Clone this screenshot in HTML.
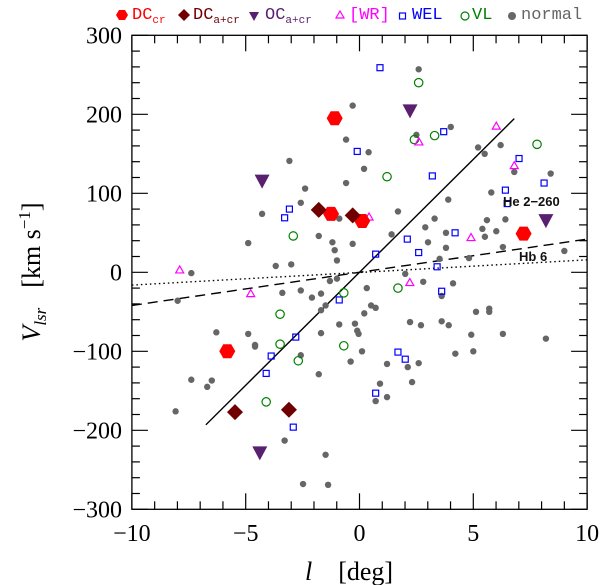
<!DOCTYPE html>
<html><head><meta charset="utf-8"><style>
html,body{margin:0;padding:0;background:#fff;}
svg{display:block;}
</style></head><body>
<svg id="chart" width="603" height="585" xmlns="http://www.w3.org/2000/svg" font-family="Liberation Serif, serif">
<g id="frame-g"></g>
<g id="lines-g"></g>
<g id="marks-g"></g>
<g font-family="Liberation Mono, monospace" font-size="17">
  <polygon points="116,15 119,10 125,10 128,15 125,20 119,20" fill="#ff0000"/>
  <text x="132" y="19" fill="#ff0000">DC<tspan font-size="11" dy="4">cr</tspan></text>
  <polygon points="184,9 190,15 184,21 178,15" fill="#700000"/>
  <text x="193" y="19" fill="#700000">DC<tspan font-size="11" dy="4">a+cr</tspan></text>
  <polygon points="249,12 259,12 254,21" fill="#5a2070"/>
  <text x="265" y="19" fill="#5a2070">OC<tspan font-size="11" dy="4">a+cr</tspan></text>
  <polygon points="340,11 344,18 336,18" fill="none" stroke="#ff00ff" stroke-width="1.2"/>
  <text x="349" y="19" fill="#ff00ff">[WR]</text>
  <rect x="399.5" y="13" width="6" height="6" fill="none" stroke="#0000ff" stroke-width="1.2"/>
  <text x="412" y="19" fill="#0000ff">WEL</text>
  <circle cx="465" cy="16" r="4" fill="none" stroke="#008000" stroke-width="1.2"/>
  <text x="472" y="19" fill="#008000">VL</text>
  <circle cx="512" cy="16" r="4" fill="#666"/>
  <text x="521" y="19" fill="#666">normal</text>
</g>
<text x="503" y="206" font-size="13" font-family="Liberation Sans, sans-serif" font-weight="bold" fill="#111">He 2−260</text>
<text x="519" y="261" font-size="13" font-family="Liberation Sans, sans-serif" font-weight="bold" fill="#111">Hb 6</text>
<text x="305" y="580" font-size="26"><tspan font-style="italic">l</tspan><tspan dx="26">[deg]</tspan></text>
<text transform="translate(40,272) rotate(-90)" text-anchor="middle" font-size="26"><tspan font-style="italic">V</tspan><tspan font-style="italic" font-size="17" dy="6">lsr</tspan><tspan dy="-6" dx="20">[km s</tspan><tspan font-size="17" dy="-10">−1</tspan><tspan dy="10">]</tspan></text>
</svg>
<script>
const xTicks=[-10,-5,0,5,10];
const yTicks=[-300,-200,-100,0,100,200,300];
const normalL=[-0.30,-0.59,-3.08,-0.59,-2.39,-2.58,-4.28,-0.89,-1.79,-4.89,-1.19,-1.09,-0.30,-0.99,-3.68,-3.0,2.60,4.01,2.50,6.20,5.21,5.50,0.40,0.20,6.80,8.40,5.79,3.90,1.69,3.30,5.60,6.41,2.89,1.41,3.80,5.40,6.01,5.51,3.01,3.80,6.30,9.0,3.52,4.81,-7.39,-7.99,-1.30,-0.99,-3.39,-2.58,-2.09,-1.69,-1.49,-1.69,-0.89,-0.2,-0.1,-0.04,-6.29,-4.89,-4.59,-4.59,-2.58,-1.69,-0.39,-1.79,-7.39,-6.49,-6.69,-8.08,-3.29,-1.49,-2.48,-1.38,2.01,2.80,4.11,0.32,3.61,0.51,0.71,0.21,5.12,5.70,5.70,2.22,2.70,3.61,3.92,4.91,6.30,8.19,0.11,4.21,5.0,1.21,2.12,2.60,0.90,2.31,0.71,1.21];
const normalV=[211,168,141,113,106,88,74,68,46,37,38,28,36,15,8,10,257,184,174,161,158,150,152,131,127,125,101,92,77,68,66,67,57,48,50,55,52,45,38,31,32,27,17,18,-1,-36,-11,-8,-26,-23,-32,-27,-42,-48,-66,-65,-74,-78,-76,-78,-92,-94,-105,-77,-113,-129,-136,-137,-145,-176,-213,-231,-268,-269,-2,-12,-14,-20,-30,-42,-45,-52,-50,-46,-50,-63,-67,-62,-67,-79,-78,-84,-100,-103,-100,-116,-120,-115,-141,-139,-163,-158];
const welL=[-0.1,-3.08,-3.29,0.90,3.70,3.20,7.01,8.11,6.41,6.49,4.20,2.10,2.60,0.71,3.41,-0.89,-2.80,-3.88,-4.10,-2.91,3.61,1.69,2.01,0.71];
const welV=[153,80,69,259,178,122,144,113,104,87,50,42,25,23,7,-35,-82,-106,-128,-196,-24,-101,-110,-153];
const vlL=[-2.91,2.60,2.41,3.30,7.80,1.21,-0.69,-3.49,-3.49,-2.69,-0.69,-4.10,1.69];
const vlV=[46,240,168,173,162,121,-26,-53,-91,-112,-93,-164,-20];
const wrL=[6.01,2.61,6.80,0.42,4.90,-7.90,-4.78,2.21];
const wrV=[185,165,135,70,44,3,-27,-13];
const dccrL=[-1.09,-1.25,0.12,7.21,-5.81];
const dccrV=[195,74,65,49,-100];
const dcacrL=[-1.79,-0.30,-5.47,-3.10];
const dcacrV=[79,72,-177,-174];
const ocacrL=[-4.28,2.22,8.19,-4.38];
const ocacrV=[116,205,66,-228];
// fit lines: [lStart, lEnd, slope, intercept]
const solidFit=[-6.75,6.8,28.6,0];
const dashedFit=[-10,10,4.2,0];
const dottedFit=[-10,10,1.6,-0.2];

const X=l=>359.5+22.76*l;
const Y=v=>272.3-0.79*v;
const NS='http://www.w3.org/2000/svg';
function mk(tag,attrs,parent){const e=document.createElementNS(NS,tag);for(const k in attrs)e.setAttribute(k,attrs[k]);parent.appendChild(e);return e;}
const frame=document.getElementById('frame-g');
const x0=X(-10),x1=X(10),y0=Y(300),y1=Y(-300);
let r=mk('rect',{x:x0,y:y0,width:x1-x0,height:y1-y0,fill:'none',stroke:'#000','stroke-width':1.3},frame);


for(let l=-10;l<=10;l+=1){const major=xTicks.includes(l);const len=major?16:8;
 let t=mk('line',{x1:X(l),x2:X(l),y1:y1,y2:y1-len,stroke:'#000','stroke-width':1.2},frame);
 
 t=mk('line',{x1:X(l),x2:X(l),y1:y0,y2:y0+len,stroke:'#000','stroke-width':1.2},frame);
 }
for(let v=-300;v<=300;v+=20){const major=yTicks.includes(v);const len=major?16:8;
 let t=mk('line',{x1:x0,x2:x0+len,y1:Y(v),y2:Y(v),stroke:'#000','stroke-width':1.2},frame);
 
 t=mk('line',{x1:x1,x2:x1-len,y1:Y(v),y2:Y(v),stroke:'#000','stroke-width':1.2},frame);
 }
xTicks.forEach(l=>{const t=mk('text',{x:X(l),y:541,'text-anchor':'middle','font-size':24},frame);t.textContent=(l<0?'−':'')+Math.abs(l);
 });
yTicks.forEach(v=>{const t=mk('text',{x:122,y:Y(v)+8,'text-anchor':'end','font-size':24},frame);t.textContent=(v<0?'−':'')+Math.abs(v);
 });

const lg=document.getElementById('lines-g');
function fitLine(f,dash,name){const ln=mk('line',{x1:X(f[0]),y1:Y(f[2]*f[0]+f[3]),x2:X(f[1]),y2:Y(f[2]*f[1]+f[3]),stroke:'#000','stroke-width':1.4,'stroke-dasharray':dash},lg);
 
 }
fitLine(solidFit,'none','fit-line-all');
fitLine(dashedFit,'10,6','fit-line-hb6');
fitLine(dottedFit,'1.5,3','fit-line-he2-260');

const mg=document.getElementById('marks-g');
normalL.forEach((l,i)=>{const c=mk('circle',{cx:X(l),cy:Y(normalV[i]),r:3.2,fill:'#666'},mg);
 });
welL.forEach((l,i)=>{const c=mk('rect',{x:X(l)-3,y:Y(welV[i])-3,width:6,height:6,fill:'none',stroke:'#0000ff','stroke-width':1.2},mg);
 });
vlL.forEach((l,i)=>{const c=mk('circle',{cx:X(l),cy:Y(vlV[i]),r:4.2,fill:'none',stroke:'#008000','stroke-width':1.2},mg);
 });
wrL.forEach((l,i)=>{const x=X(l),y=Y(wrV[i]);const c=mk('polygon',{points:`${x},${y-4} ${x+4},${y+3} ${x-4},${y+3}`,fill:'none',stroke:'#ff00ff','stroke-width':1.2},mg);
 });
dccrL.forEach((l,i)=>{const x=X(l),y=Y(dccrV[i]);const c=mk('polygon',{points:`${x-8},${y} ${x-4},${y-7} ${x+4},${y-7} ${x+8},${y} ${x+4},${y+7} ${x-4},${y+7}`,fill:'#ff0000'},mg);
 });
dcacrL.forEach((l,i)=>{const x=X(l),y=Y(dcacrV[i]);const c=mk('polygon',{points:`${x},${y-8} ${x+8},${y} ${x},${y+8} ${x-8},${y}`,fill:'#700000'},mg);
 });
ocacrL.forEach((l,i)=>{const x=X(l),y=Y(ocacrV[i]);const c=mk('polygon',{points:`${x-7.5},${y-6} ${x+7.5},${y-6} ${x},${y+8}`,fill:'#5a2070'},mg);
 });
</script>
</body></html>
